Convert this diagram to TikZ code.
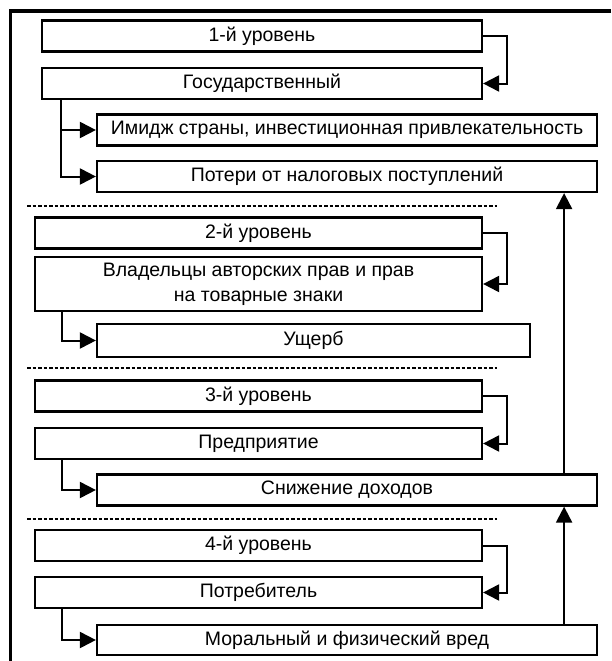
\documentclass[tikz,border=0pt]{standalone}
\usepackage{fontspec}
\setmainfont{Liberation Sans}
\usetikzlibrary{arrows.meta, positioning}
\tikzset{
  blk/.style={rectangle, draw=black, line width=2.2pt, fill=white,
    font=\fontsize{19.5}{25}\selectfont, align=center, inner sep=2pt,
    minimum height=31pt},
  blk/hdr/.style={blk, minimum width=447pt},
  blk/top/.style={blk, minimum width=440pt},
  blk/wide/.style={blk, minimum width=500pt},
  ar/.style={-{Triangle[length=16pt,width=16pt]}, draw=black, line width=2pt},
  sepline/.style={draw=black, line width=2pt, dash pattern=on 3.5pt off 2pt},
  frm/.style={draw=black, line width=3.2pt},
}

\begin{document}
\begin{tikzpicture}[x=1pt, y=-1pt]
\useasboundingbox (0,0) rectangle (611,661);
\draw[frm] (611,11) -| (10.5,661);

% -- Level 1 --
\node[blk/top]  (H1)  at (262,36)    {1-й уровень};
\node[blk/top]  (P1)  at (262,83.5)  {Государственный};
\node[blk/wide] (E1a) at (347,130)   {Имидж страны, инвестиционная привлекательность};
\node[blk/wide] (E1b) at (347,176.5) {Потери от налоговых поступлений};
\draw[sepline] (27,206) -- (497,206);

% -- Level 2 --
\node[blk/hdr] (H2) at (258.5,233) {2-й уровень};
\node[blk/hdr, minimum height=54pt] (P2) at (258.5,284)
  {Владельцы авторских прав и прав\\на товарные знаки};
\node[blk, minimum width=433pt, minimum height=33pt] (E2) at (313.5,340.5) {Ущерб};
\draw[sepline] (27,368) -- (497,368);

% -- Level 3 --
\node[blk/hdr]  (H3) at (258.5,396)   {3-й уровень};
\node[blk/hdr]  (P3) at (258.5,443.5) {Предприятие};
\node[blk/wide] (E3) at (347,490)     {Снижение доходов};
\draw[sepline] (27,519) -- (497,519);

% -- Level 4 --
\node[blk/hdr]  (H4) at (258.5,545.5) {4-й уровень};
\node[blk/hdr]  (P4) at (258.5,592.5) {Потребитель};
\node[blk/wide, minimum height=30pt] (E4) at (347,640) {Моральный и физический вред};

% connectors
\draw[ar] (H1.east) -- ++(24,0) |- (P1.east);
\draw[ar] (H2.east) -- ++(24,0) |- (P2.east);
\draw[ar] (H3.east) -- ++(24,0) |- (P3.east);
\draw[ar] (H4.east) -- ++(24,0) |- (P4.east);

\draw[ar] ([xshift=20pt]P1.south west) |- (E1a.west);
\draw[ar] ([xshift=20pt]P1.south west) |- (E1b.west);
\draw[ar] ([xshift=28pt]P2.south west) |- (E2.west);
\draw[ar] ([xshift=28pt]P3.south west) |- (E3.west);
\draw[ar] ([xshift=28pt]P4.south west) |- (E4.west);

\draw[ar] ([xshift=-34pt]E3.north east) -- ([xshift=-34pt]E1b.south east);
\draw[ar] ([xshift=-34pt]E4.north east) -- ([xshift=-34pt]E3.south east);
\end{tikzpicture}
\end{document}
